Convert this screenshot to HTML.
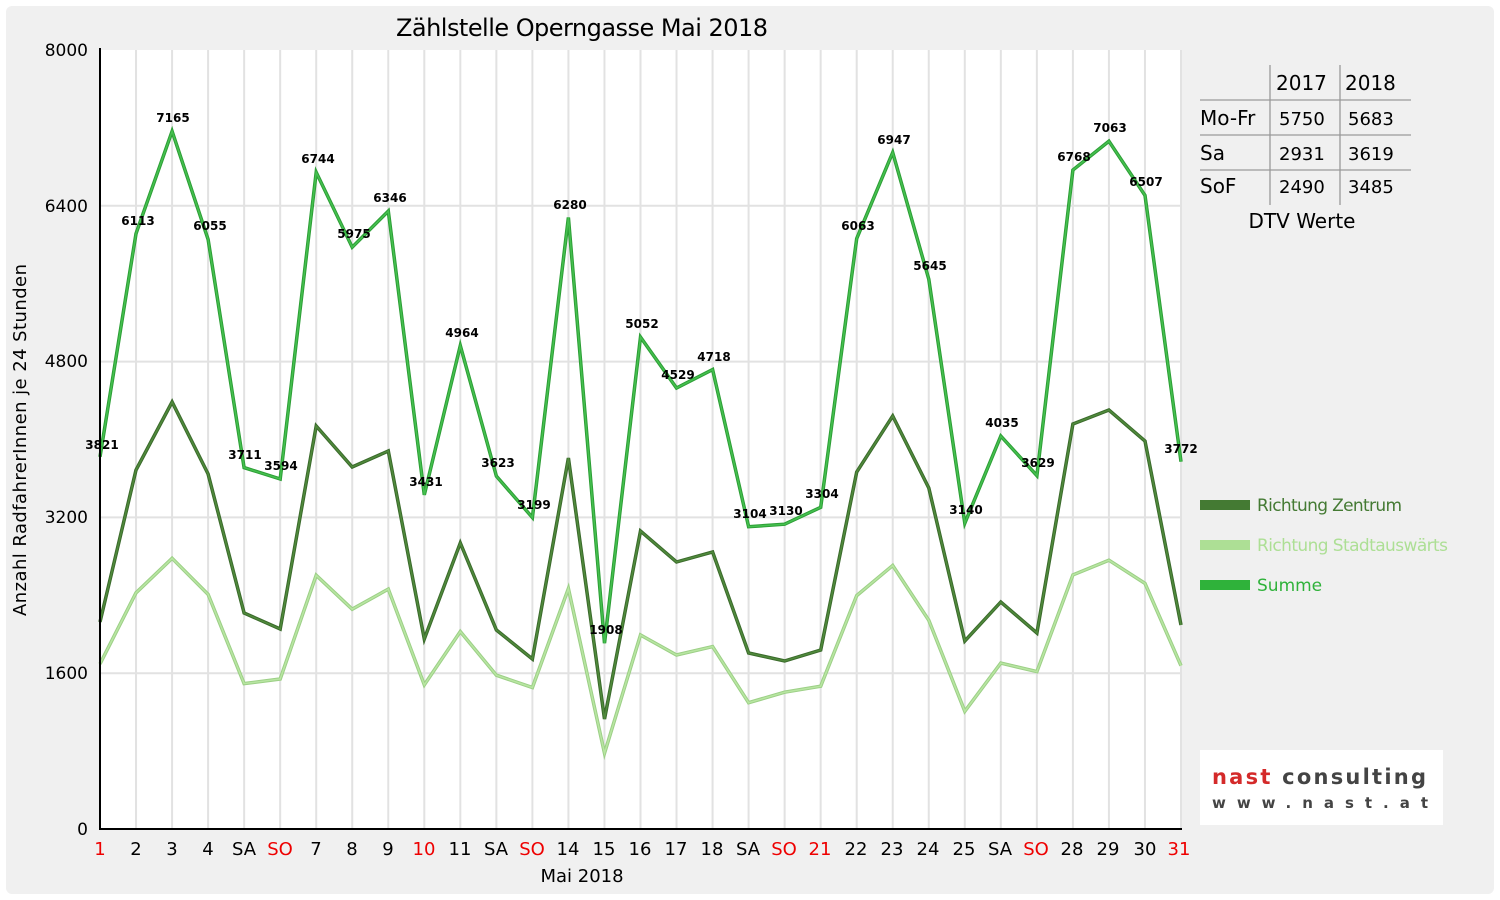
<!DOCTYPE html>
<html><head><meta charset="utf-8"><style>
body{margin:0;background:#fff;}
svg{display:block;font-family:"DejaVu Sans","Liberation Sans",sans-serif;}
</style></head><body>
<svg id="s" width="1500" height="900" viewBox="0 0 1500 900">
<rect x="6" y="6" width="1488" height="888" rx="6" fill="#f0f0f0"/>
<rect x="100" y="50" width="1081" height="779" fill="#fff"/>
<g stroke="#e2e2e2" stroke-width="2" id="grid"></g>
<g id="lines"></g>
<line x1="100" y1="48" x2="100" y2="830" stroke="#000" stroke-width="2"/>
<line x1="99" y1="829" x2="1182" y2="829" stroke="#000" stroke-width="2"/>
<g font-size="17" text-anchor="end" fill="#000">
<text x="88" y="56">8000</text><text x="88" y="212">6400</text><text x="88" y="367">4800</text><text x="88" y="523">3200</text><text x="88" y="679">1600</text><text x="88" y="835">0</text>
</g>
<text x="582" y="36" font-size="24" text-anchor="middle" textLength="372">Zählstelle Operngasse Mai 2018</text>
<text transform="translate(26,440) rotate(-90)" font-size="18" text-anchor="middle" textLength="352">Anzahl RadfahrerInnen je 24 Stunden</text>
<text x="582" y="882" font-size="18" text-anchor="middle">Mai 2018</text>
<g font-size="18" text-anchor="middle">
<text x="100" y="855" fill="#e00">1</text><text x="136" y="855">2</text><text x="172" y="855">3</text><text x="208" y="855">4</text><text x="244" y="855">SA</text><text x="280" y="855" fill="#e00">SO</text><text x="316" y="855">7</text><text x="352" y="855">8</text><text x="388" y="855">9</text><text x="424" y="855" fill="#e00">10</text><text x="460" y="855">11</text><text x="496" y="855">SA</text><text x="532" y="855" fill="#e00">SO</text><text x="568" y="855">14</text><text x="604" y="855">15</text><text x="640" y="855">16</text><text x="676" y="855">17</text><text x="712" y="855">18</text><text x="748" y="855">SA</text><text x="784" y="855" fill="#e00">SO</text><text x="820" y="855" fill="#e00">21</text><text x="856" y="855">22</text><text x="892" y="855">23</text><text x="928" y="855">24</text><text x="964" y="855">25</text><text x="1000" y="855">SA</text><text x="1036" y="855" fill="#e00">SO</text><text x="1072" y="855">28</text><text x="1108" y="855">29</text><text x="1145" y="855">30</text><text x="1179" y="855" fill="#e00">31</text>
</g>
<g font-size="12" font-weight="bold" text-anchor="middle">
<text x="102" y="449">3821</text><text x="138" y="225">6113</text><text x="173" y="122">7165</text><text x="210" y="230">6055</text><text x="245" y="459">3711</text><text x="281" y="470">3594</text><text x="318" y="163">6744</text><text x="354" y="238">5975</text><text x="390" y="202">6346</text><text x="426" y="486">3431</text><text x="462" y="337">4964</text><text x="498" y="467">3623</text><text x="534" y="509">3199</text><text x="570" y="209">6280</text><text x="606" y="634">1908</text><text x="642" y="328">5052</text><text x="678" y="379">4529</text><text x="714" y="361">4718</text><text x="750" y="518">3104</text><text x="786" y="515">3130</text><text x="822" y="498">3304</text><text x="858" y="230">6063</text><text x="894" y="144">6947</text><text x="930" y="270">5645</text><text x="966" y="514">3140</text><text x="1002" y="427">4035</text><text x="1038" y="467">3629</text><text x="1074" y="161">6768</text><text x="1110" y="132">7063</text><text x="1146" y="186">6507</text><text x="1181" y="453">3772</text>
</g>
<g stroke="#999" stroke-width="1.3">
<line x1="1270" y1="65" x2="1270" y2="205"/><line x1="1340" y1="65" x2="1340" y2="205"/>
<line x1="1200" y1="100" x2="1411" y2="100"/><line x1="1200" y1="135" x2="1411" y2="135"/><line x1="1200" y1="170" x2="1411" y2="170"/>
</g>
<g font-size="20"><text x="1276" y="90">2017</text><text x="1345" y="90">2018</text>
<text x="1200" y="125">Mo-Fr</text><text x="1200" y="160">Sa</text><text x="1200" y="193">SoF</text>
<text x="1302" y="228" text-anchor="middle">DTV Werte</text></g>
<g font-size="18"><text x="1279" y="125">5750</text><text x="1348" y="125">5683</text><text x="1279" y="160">2931</text><text x="1348" y="160">3619</text><text x="1279" y="193">2490</text><text x="1348" y="193">3485</text></g>
<rect x="1200" y="500" width="50" height="10" fill="#447a33"/><text x="1257" y="511" font-size="17" fill="#447a33" textLength="145">Richtung Zentrum</text>
<rect x="1200" y="540" width="50" height="10" fill="#addf95"/><text x="1257" y="551" font-size="17" fill="#addf95" textLength="191">Richtung Stadtauswärts</text>
<rect x="1200" y="580" width="50" height="10" fill="#2fb23a"/><text x="1257" y="591" font-size="17" fill="#2fb23a">Summe</text>
<rect x="1200" y="750" width="243" height="75" fill="#fff"/>
<text x="1212" y="784" font-size="21" font-weight="bold" fill="#d42a2a" font-family="DejaVu Sans,sans-serif" textLength="214">nast <tspan fill="#444">consulting</tspan></text>
<text x="1212" y="808" font-size="15" font-weight="bold" fill="#444" font-family="DejaVu Sans,sans-serif" textLength="216">www.nast.at</text>
</svg>
<script>
var S=[3821,6113,7165,6055,3711,3594,6744,5975,6346,3431,4964,3623,3199,6280,1908,5052,4529,4718,3104,3130,3304,6063,6947,5645,3140,4035,3629,6768,7063,6507,3772];
var Z=[2126,3687,4385,3646,2218,2054,4139,3718,3882,1951,2937,2044,1746,3810,1130,3060,2742,2845,1807,1725,1838,3666,4241,3502,1931,2331,2013,4159,4303,3985,2095];
var ns="http://www.w3.org/2000/svg";
function X(i){return 100+i*1081/30}function Y(v){return 829-v*779/8000}
var g=document.getElementById('grid');
[1600,3200,4800,6400].forEach(function(v){var l=document.createElementNS(ns,'line');l.setAttribute('x1',100);l.setAttribute('x2',1181);l.setAttribute('y1',Y(v));l.setAttribute('y2',Y(v));g.appendChild(l)});
for(var i=1;i<31;i++){var l=document.createElementNS(ns,'line');l.setAttribute('x1',X(i));l.setAttribute('x2',X(i));l.setAttribute('y1',50);l.setAttribute('y2',829);g.appendChild(l)}
var L=document.getElementById('lines');
function pl(arr,c1,c2){var p=arr.map(function(v,i){return X(i).toFixed(1)+','+Y(v).toFixed(1)}).join(' ');
[[c1,3.5],[c2,1.5]].forEach(function(a){var e=document.createElementNS(ns,'polyline');e.setAttribute('points',p);e.setAttribute('fill','none');e.setAttribute('stroke',a[0]);e.setAttribute('stroke-width',a[1]);L.appendChild(e)})}
pl(S.map(function(v,i){return v-Z[i]}),'#9ccf86','#b8e6a2');
pl(Z,'#3a6a2b','#508a3c');
pl(S,'#2c9e35','#45c04f');
</script>
</body></html>
